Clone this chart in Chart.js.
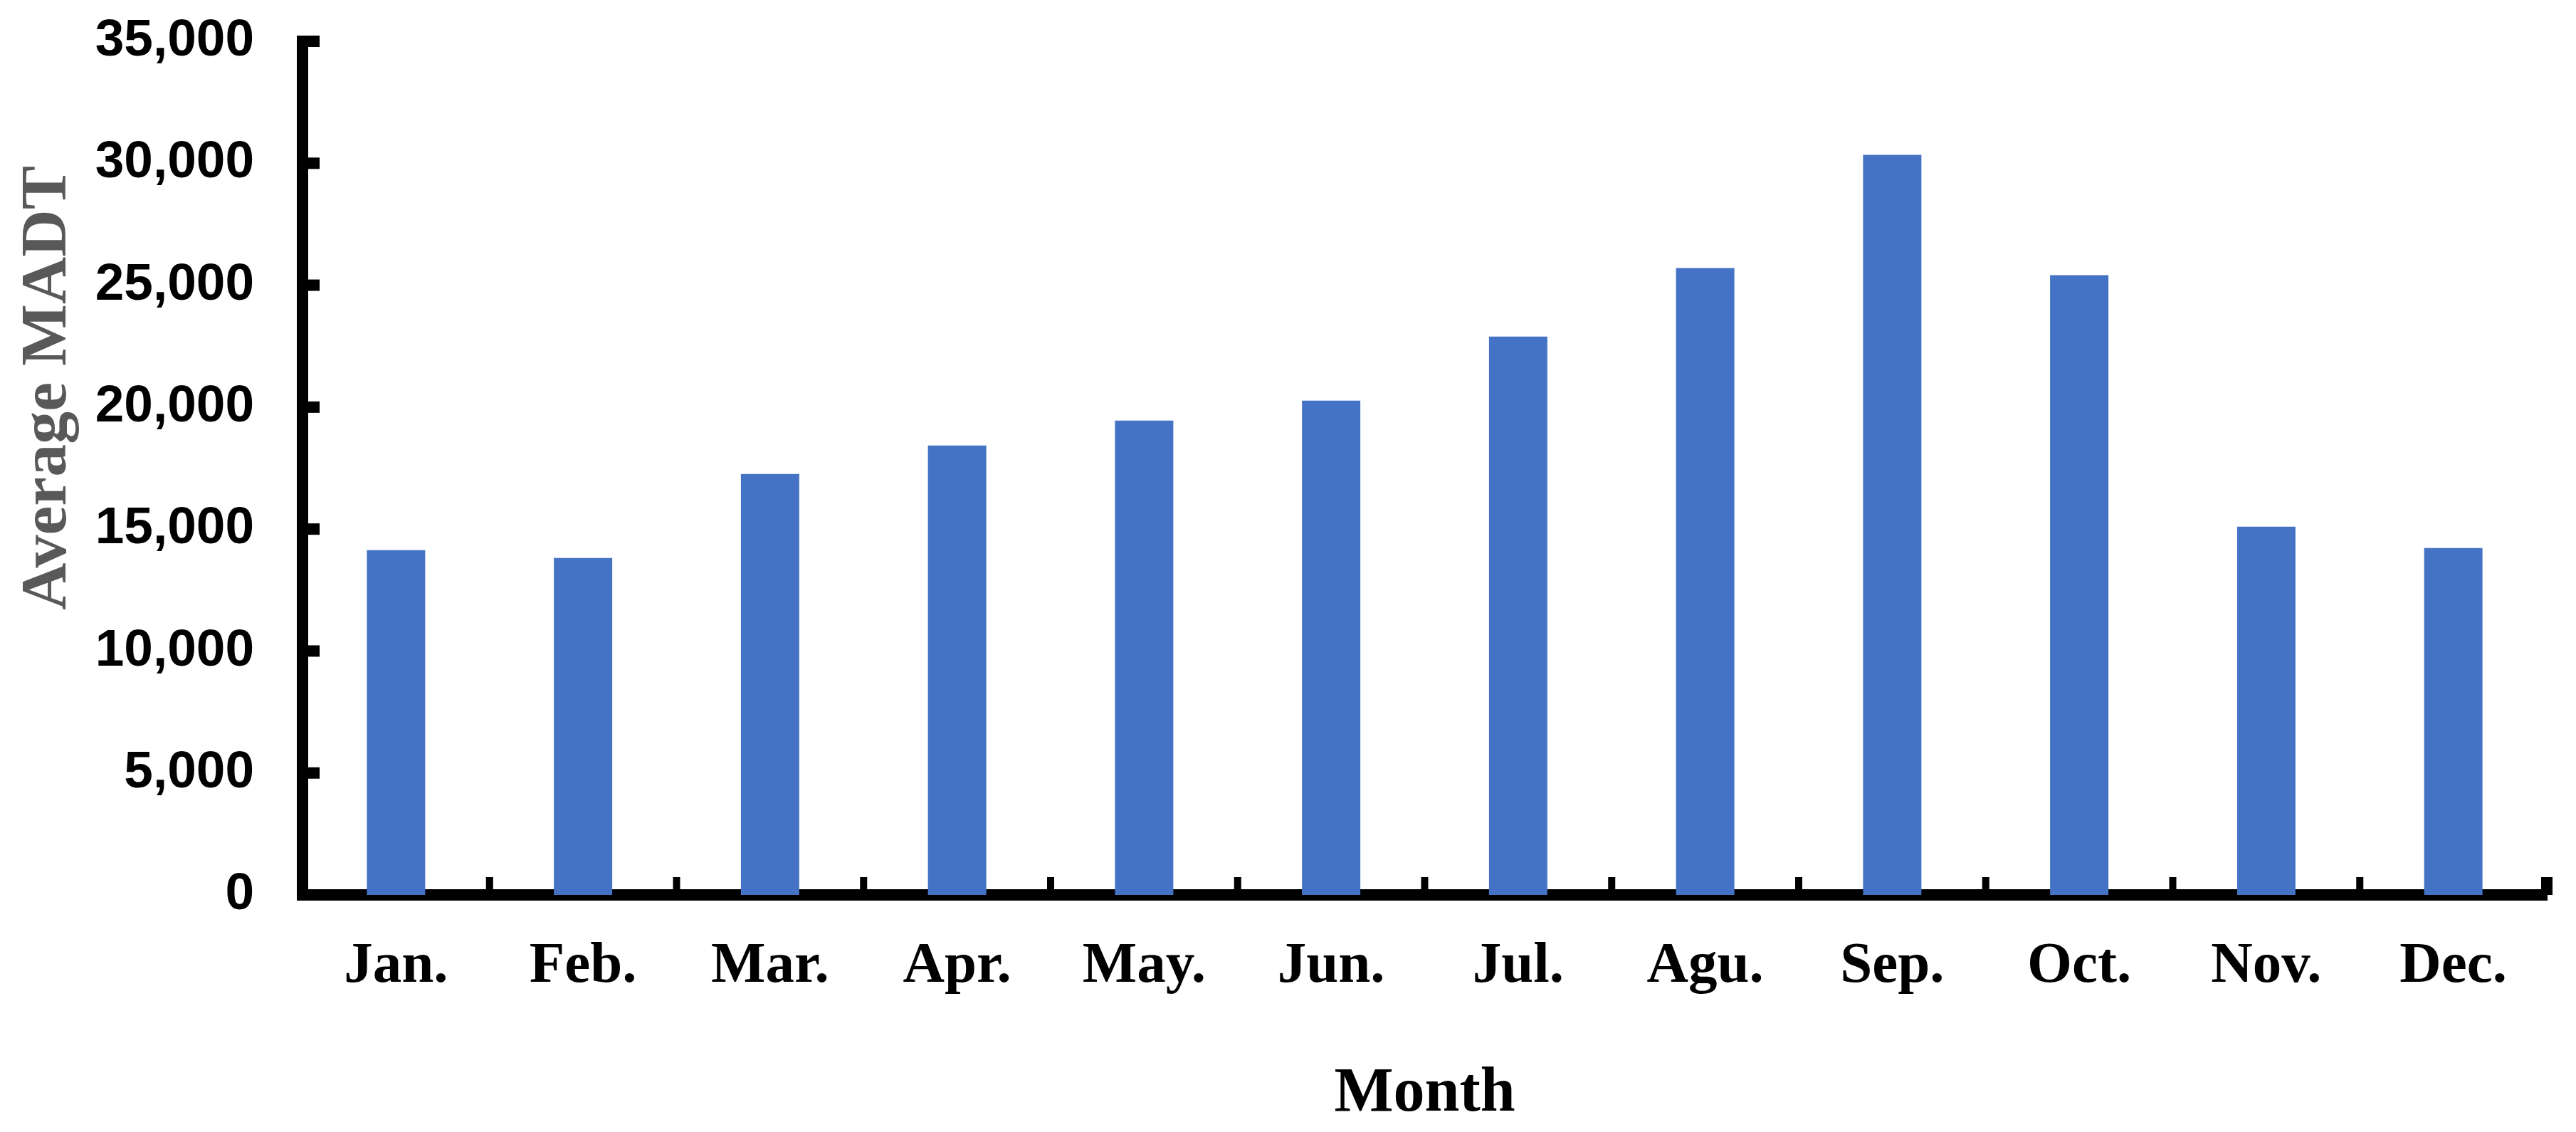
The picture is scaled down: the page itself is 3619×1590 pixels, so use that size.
<!DOCTYPE html>
<html>
<head>
<meta charset="utf-8">
<script src="https://cdn.jsdelivr.net/npm/chart.js@4/dist/chart.umd.min.js"></script>
<style>
  html, body { margin: 0; padding: 0; background: #fff; }
  #wrap { width: 3619px; height: 1590px; }
</style>
</head>
<body>
<div id="wrap"><canvas id="c" width="3619" height="1590"></canvas></div>
<script>
const months = ['Jan.', 'Feb.', 'Mar.', 'Apr.', 'May.', 'Jun.', 'Jul.', 'Agu.', 'Sep.', 'Oct.', 'Nov.', 'Dec.'];
const madt = [14135, 13813, 17259, 18428, 19450, 20268, 22896, 25700, 30343, 25408, 15098, 14222];
const yTickValues = [0, 5000, 10000, 15000, 20000, 25000, 30000, 35000];
const yTitle = 'Average MADT';
const xTitle = 'Month';

const decor = {
  id: 'decor',
  afterDraw(chart) {
    const { ctx, chartArea, scales } = chart;
    const x = scales.x, y = scales.y;
    ctx.save();
    ctx.fillStyle = '#000';
    // inward y ticks
    yTickValues.forEach(v => {
      const py = y.getPixelForValue(v);
      ctx.fillRect(chartArea.left, py - 8, 24, 16);
    });
    // inward x ticks at category boundaries
    for (let i = 1; i <= months.length; i++) {
      const px = x.getPixelForValue(i - 0.5);
      const w = i === months.length ? 16 : 10;
      ctx.fillRect(px - w / 2, chartArea.bottom - 25, w, 25);
    }
    // y-axis title
    ctx.translate(92, 545);
    ctx.rotate(-Math.PI / 2);
    ctx.fillStyle = '#595959';
    ctx.font = 'bold 92px "Liberation Serif", "Times New Roman", serif';
    ctx.textAlign = 'center';
    ctx.textBaseline = 'alphabetic';
    ctx.fillText(yTitle, 0, 0);
    ctx.restore();
  }
};

new Chart(document.getElementById('c'), {
  type: 'bar',
  data: {
    labels: months,
    datasets: [{
      data: madt,
      backgroundColor: '#4472C4',
      borderWidth: 0,
      barPercentage: 0.312,
      categoryPercentage: 1.0
    }]
  },
  options: {
    responsive: false,
    animation: false,
    devicePixelRatio: 1,
    layout: { padding: { top: 58, right: 41, left: 0, bottom: 0 } },
    plugins: { legend: { display: false }, tooltip: { enabled: false } },
    scales: {
      x: {
        afterFit: s => { s.height = 333; s.paddingLeft = 0; s.paddingRight = 0; },
        grid: { display: false, drawTicks: false },
        border: { display: true, color: '#000', width: 16 },
        ticks: {
          color: '#000',
          padding: 52,
          autoSkip: false,
          maxRotation: 0,
          font: { family: '"Liberation Serif", "Times New Roman", serif', weight: 'bold', size: 81 }
        },
        title: {
          display: true,
          text: xTitle,
          color: '#000',
          padding: { top: 0, bottom: 0 },
          font: { family: '"Liberation Serif", "Times New Roman", serif', weight: 'bold', size: 88 }
        }
      },
      y: {
        min: 0,
        max: 35000,
        afterFit: s => { s.width = 425; s.paddingTop = 0; s.paddingBottom = 0; },
        afterBuildTicks: s => { s.ticks = yTickValues.map(v => ({ value: v })); },
        grid: { display: false, drawTicks: false },
        border: { display: true, color: '#000', width: 16 },
        ticks: {
          color: '#000',
          padding: 68,
          font: { family: '"Liberation Sans", Arial, sans-serif', weight: 'bold', size: 73 },
          callback: v => Number(v).toLocaleString('en-US')
        }
      }
    }
  },
  plugins: [decor]
});
</script>
</body>
</html>
